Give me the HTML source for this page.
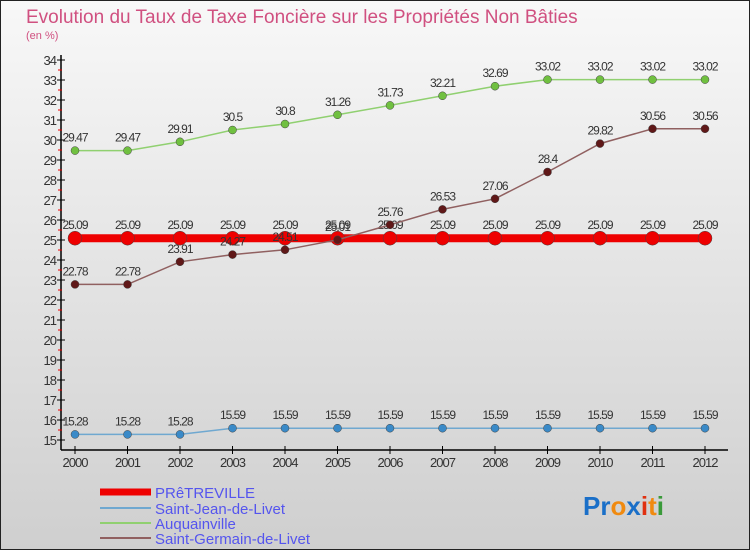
<!DOCTYPE html>
<html><head><meta charset="utf-8"><style>
body{margin:0}
#c{position:relative;width:750px;height:550px;overflow:hidden;font-family:"Liberation Sans",sans-serif;}
</style></head><body>
<div id="c">
<svg id="s" width="750" height="550" xmlns="http://www.w3.org/2000/svg">
<defs><linearGradient id="bg" x1="0" y1="0" x2="0" y2="1"><stop offset="0" stop-color="#f8f8f8"/><stop offset="1" stop-color="#cfcfcf"/></linearGradient></defs>
<rect x="0.5" y="0.5" width="749" height="549" fill="url(#bg)" stroke="#222"/>
<text x="26" y="23" font-size="19" fill="#d05080">Evolution du Taux de Taxe Foncière sur les Propriétés Non Bâties</text>
<text x="26" y="39" font-size="11" fill="#d05080">(en %)</text>
<g id="axes"></g><g id="series"></g>
<g id="legend" font-size="15" fill="#5555ee">
<line x1="100" y1="492" x2="151" y2="492" stroke="#ee0000" stroke-width="7"/>
<text x="155" y="498">PRêTREVILLE</text>
<line x1="100" y1="508" x2="151" y2="508" stroke="#6fa8d0" stroke-width="2"/>
<text x="155" y="514">Saint-Jean-de-Livet</text>
<line x1="100" y1="523" x2="151" y2="523" stroke="#90d070" stroke-width="2"/>
<text x="155" y="529">Auquainville</text>
<line x1="100" y1="538" x2="151" y2="538" stroke="#906060" stroke-width="2"/>
<text x="155" y="544">Saint-Germain-de-Livet</text>
</g>
<text x="583" y="515" font-size="26" font-weight="bold"><tspan fill="#1a6fc8">Pr</tspan><tspan fill="#f08a10">o</tspan><tspan fill="#1a6fc8">x</tspan><tspan fill="#e03010">i</tspan><tspan fill="#f08a10">t</tspan><tspan fill="#3a9a3a">i</tspan></text>
</svg>
</div>
<script>
const years=[2000,2001,2002,2003,2004,2005,2006,2007,2008,2009,2010,2011,2012];
const pretreville=[25.09,25.09,25.09,25.09,25.09,25.09,25.09,25.09,25.09,25.09,25.09,25.09,25.09];
const saintJean=[15.28,15.28,15.28,15.59,15.59,15.59,15.59,15.59,15.59,15.59,15.59,15.59,15.59];
const auquainville=[29.47,29.47,29.91,30.5,30.8,31.26,31.73,32.21,32.69,33.02,33.02,33.02,33.02];
const saintGermain=[22.78,22.78,23.91,24.27,24.51,25.01,25.76,26.53,27.06,28.4,29.82,30.56,30.56];
const yTicks=[15,16,17,18,19,20,21,22,23,24,25,26,27,28,29,30,31,32,33,34];
const NS='http://www.w3.org/2000/svg';
const X=i=>75+i*52.5, Y=v=>440-(v-15)*20;
function mk(t,a,p){const e=document.createElementNS(NS,t);for(const k in a)e.setAttribute(k,a[k]);p.appendChild(e);return e;}
const ax=document.getElementById('axes'), sg=document.getElementById('series');
let e=mk('line',{x1:61,y1:55,x2:61,y2:450,stroke:'#000','stroke-width':1.5},ax);


e=mk('line',{x1:61,y1:450,x2:728,y2:450,stroke:'#000','stroke-width':1.5},ax);


yTicks.forEach(v=>{
 mk('line',{x1:57,y1:Y(v),x2:65,y2:Y(v),stroke:'#000'},ax);
 if(v<34) mk('line',{x1:58,y1:Y(v+0.5),x2:62,y2:Y(v+0.5),stroke:'#e00'},ax);
 const t=mk('text',{x:56,y:Y(v)+5,'font-size':13,'text-anchor':'end',fill:'#333','letter-spacing':'-1'},ax);
 t.textContent=v;
 
 
});
years.forEach((y,i)=>{
 mk('line',{x1:X(i),y1:446,x2:X(i),y2:454,stroke:'#000'},ax);
 const t=mk('text',{x:X(i),y:467,'font-size':13,'text-anchor':'middle',fill:'#333','letter-spacing':'-1'},ax);
 t.textContent=y;
 
 
});
function series(vals,color,dot,w,r,name){
 const g=mk('g',{},sg);
 
 
 mk('polyline',{points:vals.map((v,i)=>X(i)+','+Y(v)).join(' '),fill:'none',stroke:color,'stroke-width':w},g);
 vals.forEach((v,i)=>{
  const c=mk('circle',{cx:X(i),cy:Y(v),r:r,fill:dot,stroke:'#444','stroke-width':0.5},g);
  
  
  const t=mk('text',{x:X(i),y:Y(v)-9,'font-size':12,'text-anchor':'middle',fill:'#333','letter-spacing':'-1'},g);
  t.textContent=v;
  
  
 });
}
series(auquainville,'#90d070','#70c040',1.5,4,'auquainville');
series(saintJean,'#6fa8d0','#3a8ac8',1.5,4,'saint-jean');
series(pretreville,'#ee0000','#ee0000',8,7,'pretreville');
series(saintGermain,'#906060','#601818',1.5,4,'saint-germain');
</script>
</body></html>
